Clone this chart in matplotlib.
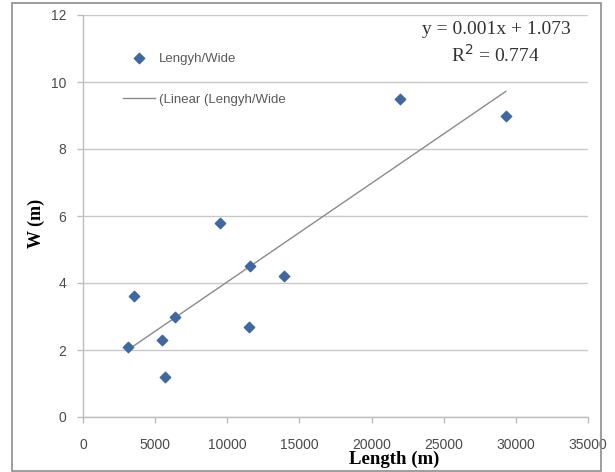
import numpy as np
import matplotlib
matplotlib.use("Agg")
import matplotlib.pyplot as plt
from matplotlib.patches import Rectangle

length_m = [3100, 3500, 5500, 5700, 6400, 9500, 11600, 11500, 13900, 22000, 29300]
width_m = [2.1, 3.6, 2.3, 1.2, 3.0, 5.8, 4.5, 2.7, 4.2, 9.5, 9.0]
series_label = "Lengyh/Wide"
trend_label = "(Linear (Lengyh/Wide"
equation_text = "y = 0.001x + 1.073"
r2_text = "R$^2$ = 0.774"
x_ticks = [0, 5000, 10000, 15000, 20000, 25000, 30000, 35000]
y_ticks = [0, 2, 4, 6, 8, 10, 12]

fig = plt.figure(figsize=(6.15, 4.72), dpi=100)
ax = fig.add_axes([83/615, 1-417/472, (588-83)/615, (417-15)/472])

# outer chart frame
fig.patches.append(Rectangle((12/615, 1/472), (601-12)/615, (469-1)/472,
                             transform=fig.transFigure, fill=False,
                             edgecolor="#8c8c8c", linewidth=1.2))

x = np.array(length_m, dtype=float)
y = np.array(width_m, dtype=float)
slope, intercept = np.polyfit(x, y, 1)
xl = np.array([x.min(), x.max()])

ax.scatter(x, y, marker="D", s=28, color="#3F68A0", edgecolors="#3F68A0",
           zorder=3, label=series_label)
ax.plot(xl, slope*xl + intercept, color="#8a8a8a", linewidth=1.0,
        zorder=2, label=trend_label)

ax.set_xlim(0, 35000)
ax.set_ylim(0, 12)
ax.set_xticks(x_ticks)
ax.set_yticks(y_ticks)
ax.yaxis.grid(True, color="#c8c8c8", linewidth=1.0)
ax.set_axisbelow(True)
for s in ["top", "right"]:
    ax.spines[s].set_visible(False)
for s in ["left", "bottom"]:
    ax.spines[s].set_color("#bdbdbd")
    ax.spines[s].set_linewidth(1.0)
ax.tick_params(axis="both", colors="#bdbdbd", labelcolor="#4a4a4a",
               labelsize=10, length=4, width=1.0)
ax.tick_params(axis="x", pad=11)
ax.tick_params(axis="y", pad=8)
for lab in ax.get_xticklabels() + ax.get_yticklabels():
    lab.set_family("Liberation Sans")

ax.set_xlabel("Length (m)", family="Liberation Serif", fontweight="bold",
              fontsize=13.5)
ax.set_ylabel("W (m)", family="Liberation Serif", fontweight="bold",
              fontsize=13)
ax.xaxis.set_label_coords((394-83)/505, (417-451)/402)
ax.yaxis.set_label_coords((45-83)/505, (417-223)/402)

leg = ax.legend(loc="upper left", bbox_to_anchor=((118-83)/505, (417-47)/402),
                frameon=False, labelspacing=2.2, handlelength=2.4,
                handletextpad=0.3, borderaxespad=0,
                prop={"family": "Liberation Sans", "size": 9.5})
for t in leg.get_texts():
    t.set_color("#595959")

fig.text(496/615, 1-30/472, equation_text, ha="center", va="center",
         family="Liberation Serif", fontsize=14, color="#333333")
fig.text(495/615, 1-55/472, r2_text, ha="center", va="center",
         family="Liberation Serif", fontsize=14, color="#333333")

fig.savefig("out.png", dpi=100)
